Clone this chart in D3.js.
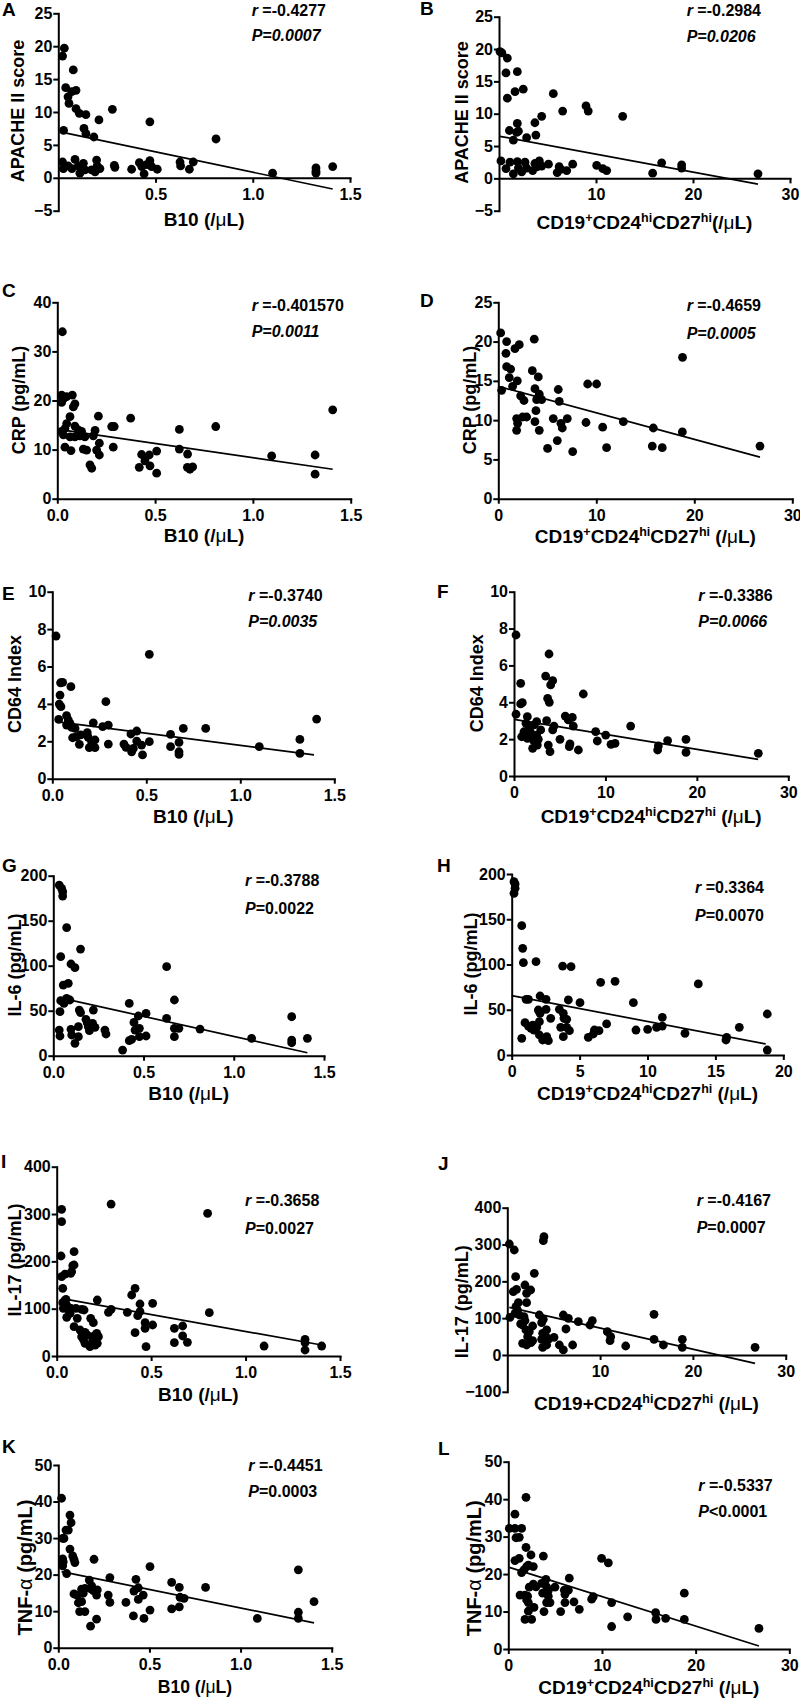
<!DOCTYPE html>
<html><head><meta charset="utf-8">
<script src="https://cdn.jsdelivr.net/npm/d3@7"></script>
<style>
body{margin:0;background:#fff;}
svg text{font-family:"Liberation Sans",Arial,sans-serif;font-weight:bold;fill:#000;white-space:pre;}
</style></head><body>
<svg id="c" width="800" height="1700" xmlns="http://www.w3.org/2000/svg"></svg>
<script>
// ---------- DATA ----------
const panelIds = ["A","B","C","D","E","F","G","H","I","J","K","L"];
const rValues = ["-0.4277","-0.2984","-0.401570","-0.4659","-0.3740","-0.3386","-0.3788","0.3364","-0.3658","-0.4167","-0.4451","-0.5337"];
const pValues = ["=0.0007","=0.0206","=0.0011","=0.0005","=0.0035","=0.0066","=0.0022","=0.0070","=0.0027","=0.0007","=0.0003","<0.0001"];
const yTitles = ["APACHE II score","APACHE II score","CRP (pg/mL)","CRP (pg/mL)","CD64 Index","CD64 Index","IL-6 (pg/mL)","IL-6 (pg/mL)","IL-17 (pg/mL)","IL-17 (pg/mL)","TNF-α (pg/mL)","TNF-α (pg/mL)"];
const b10Ticks = [0,0.5,1,1.5];
const cdTicks30 = [0,10,20,30];
const cdTicks20 = [0,5,10,15,20];
const yTicksAB = [-5,0,5,10,15,20,25];
const yTicksC = [0,10,20,30,40];
const yTicksD = [0,5,10,15,20,25];
const yTicksEF = [0,2,4,6,8,10];
const yTicksGH = [0,50,100,150,200];
const yTicksI = [0,100,200,300,400];
const yTicksJ = [-100,0,100,200,300,400];
const yTicksKL = [0,10,20,30,40,50];

const ptsA = [[0.022,18.5],[0.031,19.7],[0.038,13.7],[0.05,12.3],[0.055,11.3],[0.077,16.4],[0.069,13.1],[0.091,13.3],[0.091,10.5],[0.108,9.8],[0.142,9.6],[0.209,8.8],[0.278,10.4],[0.471,8.5],[0.027,7.2],[0.132,7.5],[0.142,6.7],[0.183,6.2],[0.811,5.9],[0.022,2.4],[0.026,1.4],[0.05,1.8],[0.07,1.4],[0.086,2.8],[0.103,1.8],[0.111,0.7],[0.129,2.2],[0.137,1.2],[0.171,1.2],[0.189,0.9],[0.197,2.7],[0.2,1.8],[0.214,1.4],[0.288,1.9],[0.291,1.6],[0.377,1.3],[0.417,2.3],[0.429,1.7],[0.441,0.6],[0.454,2.0],[0.471,2.6],[0.48,1.7],[0.509,1.3],[0.626,2.4],[0.629,1.8],[0.674,1.3],[0.694,2.4],[1.102,0.7],[1.325,1.5],[1.325,1.0],[1.325,0.7],[1.411,1.7]];
const fitA = [[0.022,6.9],[1.411,-1.7]];

const ptsB = [[0.1,19.6],[0.3,19.4],[0.86,18.6],[0.72,16.3],[1.89,16.5],[0.86,12.4],[1.65,13.4],[2.5,13.8],[5.6,13.1],[8.97,11.2],[9.2,10.4],[6.56,10.4],[12.75,9.6],[4.4,9.6],[3.7,8.6],[1.89,8.5],[1.07,7.4],[1.82,7.1],[2.0,7.3],[3.8,6.7],[2.85,6.3],[1.48,5.9],[0.2,2.7],[0.72,1.5],[1.13,2.5],[1.48,0.7],[1.89,2.6],[2.0,1.6],[2.34,1.0],[2.68,2.5],[2.85,1.6],[3.47,1.2],[3.7,2.3],[3.95,1.8],[4.16,2.7],[4.4,1.9],[5.1,2.2],[6.0,0.9],[6.2,1.8],[6.36,1.4],[6.98,1.2],[7.6,2.2],[10.07,2.0],[10.7,1.5],[11.1,1.2],[15.84,0.8],[16.77,2.4],[18.83,2.1],[18.83,1.6],[26.7,0.7]];
const fitB = [[0.1,6.5],[26.7,-0.9]];

const ptsC = [[0.026,34.0],[0.022,21.1],[0.022,19.6],[0.034,20.5],[0.048,20.8],[0.077,21.1],[0.082,18.7],[0.09,19.3],[0.065,16.7],[0.048,15.3],[0.039,14.3],[0.022,13.7],[0.031,13.0],[0.09,14.8],[0.107,14.0],[0.124,13.7],[0.065,12.6],[0.09,12.6],[0.116,12.8],[0.141,12.6],[0.039,10.5],[0.07,9.8],[0.133,10.1],[0.15,9.9],[0.21,16.8],[0.193,13.9],[0.184,12.8],[0.215,11.3],[0.201,9.9],[0.215,8.9],[0.167,6.9],[0.176,6.2],[0.278,14.7],[0.291,14.7],[0.286,10.5],[0.375,16.4],[0.419,6.4],[0.431,9.0],[0.448,7.7],[0.47,8.9],[0.474,6.7],[0.508,9.7],[0.508,5.2],[0.624,14.1],[0.624,10.1],[0.666,9.1],[0.665,6.4],[0.678,6.0],[0.692,6.5],[0.81,14.7],[1.096,8.7],[1.318,8.9],[1.318,5.0],[1.408,18.1]];
const fitC = [[0.022,14.0],[1.408,6.0]];

const ptsD = [[0.24,21.1],[0.85,20.0],[0.78,18.5],[0.85,16.8],[1.26,16.5],[1.12,15.4],[1.46,14.3],[1.94,15.0],[0.34,13.8],[1.7,19.1],[2.14,19.6],[3.67,20.3],[3.47,16.3],[4.08,15.5],[3.74,14.0],[3.91,12.6],[4.18,13.3],[4.42,12.6],[2.28,13.1],[2.62,12.5],[1.87,10.2],[1.97,9.6],[1.87,8.7],[2.48,10.4],[2.89,10.4],[3.84,11.2],[3.74,9.8],[4.18,8.7],[5.03,6.4],[5.61,10.2],[6.12,13.9],[6.22,12.4],[6.02,7.4],[6.39,9.6],[6.53,9.0],[7.04,10.2],[7.59,6.0],[9.12,14.6],[10.03,14.6],[8.95,9.7],[10.65,9.1],[11.05,6.5],[12.76,9.8],[15.82,9.0],[15.71,6.7],[16.73,6.5],[18.8,18.0],[18.78,8.5],[26.7,6.7]];
const fitD = [[0,14.3],[26.7,5.3]];

const ptsE = [[0.02,7.63],[0.034,3.17],[0.041,4.47],[0.037,3.99],[0.046,3.85],[0.044,5.13],[0.055,5.15],[0.099,4.92],[0.076,3.37],[0.085,3.14],[0.094,2.96],[0.076,2.87],[0.103,2.74],[0.121,2.69],[0.108,2.19],[0.129,2.25],[0.144,1.84],[0.151,2.34],[0.186,2.46],[0.191,2.21],[0.197,1.66],[0.218,2.99],[0.209,1.98],[0.227,1.66],[0.227,2.07],[0.268,2.78],[0.285,4.12],[0.298,2.87],[0.298,1.85],[0.381,1.85],[0.392,1.68],[0.418,2.39],[0.422,1.44],[0.431,1.62],[0.449,2.55],[0.449,2.01],[0.475,1.8],[0.48,1.27],[0.516,6.65],[0.516,1.98],[0.629,2.37],[0.629,1.71],[0.674,1.94],[0.674,1.44],[0.674,1.30],[0.697,2.69],[0.816,2.69],[1.101,1.71],[1.317,2.1],[1.317,1.35],[1.406,3.19]];
const fitE = [[0.02,3.05],[1.392,1.27]];

const ptsF = [[0.22,7.65],[0.22,3.35],[0.73,5.03],[0.73,3.91],[0.91,3.98],[0.84,2.13],[1.09,2.4],[1.31,2.86],[1.46,3.22],[1.46,2.04],[1.68,2.59],[1.82,2.35],[2.04,1.5],[2.11,1.95],[2.19,2.77],[2.48,2.95],[2.48,2.22],[2.55,1.68],[2.66,1.99],[2.92,2.5],[3.57,3.0],[3.46,5.42],[3.83,6.62],[3.68,4.21],[3.86,4.0],[3.75,1.68],[3.94,1.32],[4.01,4.94],[4.23,5.17],[4.23,2.5],[4.37,2.71],[5.03,1.99],[5.61,3.25],[5.94,3.04],[6.12,1.74],[6.05,1.59],[6.38,3.18],[6.49,2.71],[7.04,1.41],[7.58,4.45],[8.93,2.41],[9.11,1.9],[10.03,2.22],[10.61,1.72],[11.05,1.77],[12.76,2.71],[15.79,1.63],[15.71,1.41],[16.8,1.92],[18.81,1.99],[18.81,1.28],[26.72,1.23]];
const fitF = [[0,3.07],[26.7,0.9]];

const ptsG = [[0.033,189.6],[0.046,185.9],[0.052,182.2],[0.052,177.4],[0.074,142.2],[0.041,110.0],[0.151,118.5],[0.098,101.9],[0.12,97.8],[0.055,78.5],[0.083,80.4],[0.074,63.7],[0.092,61.9],[0.041,61.1],[0.059,58.1],[0.037,48.9],[0.033,28.5],[0.037,21.9],[0.098,29.3],[0.102,23.0],[0.12,13.7],[0.139,32.2],[0.139,21.1],[0.144,50.7],[0.151,47.8],[0.181,40.4],[0.188,36.7],[0.194,32.2],[0.2,27.8],[0.222,50.7],[0.218,35.9],[0.231,31.5],[0.286,28.5],[0.292,24.1],[0.384,6.3],[0.421,58.1],[0.421,16.7],[0.434,18.1],[0.447,37.0],[0.453,28.5],[0.471,44.1],[0.477,30.4],[0.477,21.1],[0.514,47.0],[0.514,21.9],[0.628,98.9],[0.628,41.5],[0.671,61.9],[0.671,30.4],[0.671,21.1],[0.696,30.4],[0.813,29.6],[1.099,19.3],[1.321,43.3],[1.321,17.4],[1.321,14.4],[1.408,19.3]];
const fitG = [[0.033,64.5],[1.408,3.3]];

const ptsH = [[0.17,191.5],[0.25,189.0],[0.25,184.2],[0.17,178.6],[0.74,142.9],[0.81,117.9],[0.86,102.0],[1.79,103.1],[3.75,98.3],[4.37,97.6],[6.55,80.3],[7.61,81.4],[13.74,78.5],[1.06,61.5],[1.23,61.5],[2.09,65.2],[2.53,61.5],[4.17,60.8],[5.03,57.8],[8.96,57.8],[0.98,35.7],[1.23,32.0],[1.42,29.5],[1.55,33.1],[1.64,27.6],[1.84,30.6],[0.74,18.4],[1.96,49.7],[2.09,46.0],[2.04,36.8],[2.04,22.1],[2.28,16.6],[2.53,50.5],[2.58,20.3],[2.7,15.8],[2.87,40.5],[3.51,50.5],[3.8,46.0],[3.85,40.5],[3.61,30.6],[3.8,20.3],[4.05,39.4],[4.05,30.6],[4.25,26.9],[5.64,19.5],[6.01,23.2],[6.09,27.6],[6.43,26.9],[6.99,34.3],[9.15,27.6],[10.01,28.4],[10.67,30.6],[11.09,41.6],[11.09,32.0],[12.76,23.9],[15.78,16.6],[15.83,19.5],[16.76,30.6],[18.82,45.3],[18.82,5.5]];
const fitH = [[0,65.6],[18.7,12.2]];

const ptsI = [[0.026,309.9],[0.026,283.8],[0.023,211.3],[0.026,167.6],[0.044,173.2],[0.032,143.0],[0.049,119.7],[0.032,112.7],[0.053,107.7],[0.035,100.7],[0.062,97.2],[0.076,100.7],[0.053,81.7],[0.071,90.1],[0.074,174.6],[0.085,190.8],[0.092,192.3],[0.092,220.4],[0.079,178.2],[0.102,100.7],[0.092,62.0],[0.109,79.6],[0.132,98.6],[0.145,97.2],[0.124,54.9],[0.15,50.0],[0.132,40.8],[0.141,35.2],[0.162,44.4],[0.18,79.6],[0.194,70.4],[0.198,42.3],[0.191,33.8],[0.176,19.7],[0.15,26.8],[0.203,23.2],[0.212,47.9],[0.215,26.8],[0.221,40.8],[0.215,118.3],[0.274,92.3],[0.288,98.6],[0.288,321.1],[0.374,92.3],[0.397,128.9],[0.415,143.0],[0.415,49.3],[0.429,85.2],[0.441,109.9],[0.441,93.7],[0.468,70.4],[0.468,58.5],[0.473,19.7],[0.508,111.3],[0.508,65.5],[0.623,58.5],[0.623,28.2],[0.667,63.4],[0.667,42.3],[0.692,28.9],[0.799,301.4],[0.808,91.5],[1.098,21.1],[1.315,35.2],[1.315,28.2],[1.315,12.7],[1.403,21.1]];
const fitI = [[0.023,121.8],[1.403,23.2]];

const ptsJ = [[0.22,301.4],[0.75,285.1],[0.9,212.7],[0.29,102.3],[0.65,171.9],[1.0,178.3],[0.93,131.2],[1.19,142.1],[0.83,113.1],[1.08,122.2],[1.29,108.6],[1.44,84.2],[1.9,190.0],[2.08,167.4],[2.52,176.5],[2.08,142.1],[1.8,104.1],[1.9,93.2],[1.65,81.4],[2.01,67.9],[2.37,63.3],[2.73,78.7],[2.19,49.8],[1.65,31.7],[2.08,27.1],[2.55,33.5],[2.73,38.9],[2.91,221.7],[3.45,108.6],[3.7,87.8],[3.88,96.8],[3.81,58.8],[3.7,42.5],[3.81,20.8],[3.95,321.3],[3.88,310.4],[4.24,67.9],[4.17,49.8],[4.42,42.5],[4.24,27.1],[5.03,48.0],[5.61,27.1],[6.04,108.6],[6.04,13.6],[6.32,70.6],[6.58,99.5],[7.04,27.1],[7.65,90.5],[8.91,81.4],[9.16,93.2],[10.78,63.3],[11.07,38.9],[11.14,49.8],[12.76,24.4],[15.81,110.4],[15.81,42.5],[16.82,27.1],[18.86,42.5],[18.86,20.8],[26.7,20.8]];
const fitJ = [[0.22,129.4],[26.7,-22.6]];

const ptsK = [[0.018,40.9],[0.024,29.9],[0.031,29.9],[0.024,24.3],[0.027,23.5],[0.024,22.4],[0.046,20.3],[0.042,32.2],[0.055,32.2],[0.064,36.3],[0.07,34.2],[0.064,27.0],[0.079,25.1],[0.086,24.2],[0.091,23.3],[0.086,14.7],[0.104,14.4],[0.11,12.3],[0.117,9.9],[0.128,12.6],[0.128,16.0],[0.137,14.9],[0.146,16.2],[0.146,9.9],[0.17,18.5],[0.174,16.2],[0.177,5.9],[0.183,16.9],[0.192,15.6],[0.196,24.2],[0.21,14.4],[0.21,7.8],[0.214,15.8],[0.274,14.4],[0.283,19.2],[0.283,12.4],[0.371,12.4],[0.412,8.7],[0.415,15.5],[0.426,18.7],[0.439,16.4],[0.439,13.2],[0.466,14.4],[0.47,8.0],[0.503,22.2],[0.503,10.3],[0.622,17.9],[0.622,10.6],[0.664,16.5],[0.664,11.2],[0.668,13.8],[0.69,13.5],[0.808,16.5],[1.092,8.0],[1.317,21.3],[1.317,9.7],[1.317,8.0],[1.403,12.6]];
const fitK = [[0.018,20.8],[1.403,6.8]];

const ptsL = [[0.11,32.2],[0.71,36.0],[0.71,32.2],[1.42,32.2],[0.82,29.7],[1.17,29.8],[0.71,23.6],[1.17,24.2],[1.89,40.5],[1.89,27.1],[2.42,25.1],[2.67,22.0],[1.96,22.0],[2.14,22.4],[1.67,21.1],[1.42,20.4],[1.25,14.4],[1.78,14.4],[2.06,14.1],[1.96,13.1],[2.14,12.4],[2.14,10.1],[1.78,7.9],[2.49,7.9],[2.24,16.5],[2.67,17.3],[2.95,16.6],[2.74,11.1],[3.74,24.8],[3.56,17.5],[3.67,14.9],[3.81,10.0],[4.02,18.6],[4.09,16.6],[4.27,15.6],[4.27,14.1],[4.09,12.4],[4.45,12.4],[4.98,16.5],[5.59,10.0],[5.98,15.7],[6.05,14.6],[6.05,12.4],[6.41,15.7],[6.51,18.9],[7.01,12.6],[7.58,10.6],[8.9,13.3],[9.07,14.0],[9.96,24.2],[10.68,23.0],[11.03,12.4],[11.03,6.0],[12.74,8.6],[15.73,9.7],[15.77,7.9],[16.8,8.2],[18.79,14.9],[18.79,7.9],[26.76,5.5]];
const fitL = [[0.11,21.8],[26.76,0.8]];

// ---------- LAYOUT ----------
const layout = [
 {pts:ptsA,fit:fitA,xk:"b10",xDom:[0,1.5],xT:[0.5,1,1.5],x0:58.3,x1:350,yDom:[-5,25],yT:yTicksAB,yTop:13.3,yBot:210.7,lab:[2,16],yt:[17.5,111],xtY:226,an:[251.7,15.7,41.2],pAll:true,noSpace:false},
 {pts:ptsB,fit:fitB,xk:"cd",xDom:[0,30],xT:[10,20,30],x0:499,x1:790,yDom:[-5,25],yT:yTicksAB,yTop:16.7,yBot:210.7,lab:[420,15],yt:[461.7,112.5],xtY:229,an:[686.7,15.7,42.4],pAll:true,noSpace:true},
 {pts:ptsC,fit:fitC,xk:"b10",xDom:[0,1.5],xT:b10Ticks,x0:57.3,x1:350.7,yDom:[0,40],yT:yTicksC,yTop:302.3,yBot:498.7,lab:[2,296.5],yt:[19,400],xtY:542,an:[251.7,310.7,337.4],pAll:true},
 {pts:ptsD,fit:fitD,xk:"cd",xDom:[0,30],xT:cdTicks30,x0:498.3,x1:792.3,yDom:[0,25],yT:yTicksD,yTop:302.3,yBot:498.7,lab:[420,306.5],yt:[470,400],xtY:543,an:[686.7,310.7,339],pAll:true},
 {pts:ptsE,fit:fitE,xk:"b10",xDom:[0,1.5],xT:b10Ticks,x0:52.3,x1:334.3,yDom:[0,10],yT:yTicksEF,yTop:591.7,yBot:778.7,lab:[2,600],yt:[15,684],xtY:823,an:[248.3,600.7,627.4],pAll:true},
 {pts:ptsF,fit:fitF,xk:"cd",xDom:[0,30],xT:cdTicks30,x0:514,x1:788.3,yDom:[0,10],yT:yTicksEF,yTop:591.7,yBot:776,lab:[437,598],yt:[476.7,683.3],xtY:823,an:[698.3,600.7,627.4],pAll:true},
 {pts:ptsG,fit:fitG,xk:"b10",xDom:[0,1.5],xT:b10Ticks,x0:53.3,x1:324,yDom:[0,200],yT:yTicksGH,yTop:875.7,yBot:1055.7,lab:[2,871.5],yt:[15,965],xtY:1100,an:[245,885.7,914],pAll:false},
 {pts:ptsH,fit:fitH,xk:"cd",xDom:[0,20],xT:cdTicks20,x0:511.7,x1:783.3,yDom:[0,200],yT:yTicksGH,yTop:874,yBot:1055,lab:[437,871.5],yt:[471,964],xtY:1100,an:[695,893.4,920.7],pAll:false},
 {pts:ptsI,fit:fitI,xk:"b10",xDom:[0,1.5],xT:b10Ticks,x0:56.7,x1:340,yDom:[0,400],yT:yTicksI,yTop:1166.7,yBot:1356,lab:[1,1168],yt:[15,1260],xtY:1401,an:[245,1205.7,1234],pAll:false},
 {pts:ptsJ,fit:fitJ,xk:"cdplain",xDom:[0,30],xT:[10,20,30],x0:507.3,x1:785.7,yDom:[-100,400],yT:yTicksJ,yTop:1207.7,yBot:1391.8,lab:[438,1170],yt:[461.7,1301.7],xtY:1410,an:[696.7,1205.7,1233.4],pAll:false},
 {pts:ptsK,fit:fitK,xk:"b10",xDom:[0,1.5],xT:b10Ticks,x0:58.3,x1:331.7,yDom:[0,50],yT:yTicksKL,yTop:1465,yBot:1647.7,lab:[2,1453],yt:[25,1567.5],xtY:1693,an:[248.3,1470.7,1497.4],pAll:false},
 {pts:ptsL,fit:fitL,xk:"cd",xDom:[0,30],xT:cdTicks30,x0:508.3,x1:789.3,yDom:[0,50],yT:yTicksKL,yTop:1461.7,yBot:1649,lab:[438,1455],yt:[473.3,1568.3],xtY:1694,an:[698.3,1490.7,1517.4],pAll:false}
];

const svg = d3.select("#c");
const FONT = '"Liberation Sans", Arial, sans-serif';
const SUP = 7;

function xTitle(t, kind, noSpace) {
  let segs;
  if (kind === "b10") segs = [{s:"B10 (/"}];
  else {
    segs = [{s:"CD19"}];
    if (kind === "cdplain") segs.push({s:"+"}); else segs.push({s:"+", sup:true});
    segs.push({s:"CD24"}, {s:"hi", sup:true}, {s:"CD27"}, {s:"hi", sup:true}, {s: noSpace ? "(/" : " (/"});
  }
  segs.push({s:"μ", light:true}, {s:"L)"});
  let raised = false;
  segs.forEach(sg => {
    const ts = t.append("tspan").text(sg.s);
    if (sg.sup) {
      ts.attr("font-size", 12.5);
      if (!raised) { ts.attr("dy", -SUP); raised = true; }
    } else if (raised) { ts.attr("dy", SUP); raised = false; }
    if (sg.light) ts.attr("font-weight", "normal");
  });
}

layout.forEach((p, i) => {
  const x = d3.scaleLinear().domain(p.xDom).range([p.x0, p.x1]);
  const y = d3.scaleLinear().domain(p.yDom).range([p.yBot, p.yTop]);
  const g = svg.append("g");
  const fmtX = p.xk === "b10" ? d3.format(".1f") : d3.format("d");

  const xa = g.append("g").attr("transform", `translate(0,${y(0)})`)
    .call(d3.axisBottom(x).tickValues(p.xT).tickFormat(fmtX).tickSize(5).tickSizeOuter(0).tickPadding(5.5));
  const ya = g.append("g").attr("transform", `translate(${p.x0},0)`)
    .call(d3.axisLeft(y).tickValues(p.yT).tickFormat(d3.format("d")).tickSize(5).tickSizeOuter(0).tickPadding(1));
  [xa, ya].forEach(a => {
    a.attr("font-size", 16).attr("font-family", FONT).attr("font-weight", "bold");
    a.selectAll(".domain").attr("stroke", "#000").attr("stroke-width", 2).attr("stroke-linecap", "square");
    a.selectAll(".tick line").attr("stroke", "#000").attr("stroke-width", 2);
    a.selectAll(".tick text").attr("fill", "#000");
  });

  // regression line
  g.append("line")
    .attr("x1", x(p.fit[0][0])).attr("y1", y(p.fit[0][1]))
    .attr("x2", x(p.fit[1][0])).attr("y2", y(p.fit[1][1]))
    .attr("stroke", "#000").attr("stroke-width", 1.7);

  // points
  g.selectAll("circle.pt").data(p.pts).join("circle").attr("class", "pt")
    .attr("cx", d => x(d[0])).attr("cy", d => y(d[1])).attr("r", 4.4).attr("fill", "#000");

  // panel letter
  g.append("text").attr("x", p.lab[0]).attr("y", p.lab[1]).attr("font-size", 19).text(panelIds[i]);

  // y title
  const yt = g.append("text").attr("transform", `translate(${p.yt[0]},${p.yt[1]}) rotate(-90)`)
    .attr("text-anchor", "middle").attr("dy", "0.36em")
    .attr("font-size", (i >= 10) ? 20 : 18);
  const ytxt = yTitles[i];
  if (ytxt.includes("α")) {
    yt.append("tspan").text("TNF-");
    yt.append("tspan").attr("font-weight", "normal").text("α");
    yt.append("tspan").text(" (pg/mL)");
  } else yt.text(ytxt);

  // x title
  const xt = g.append("text").attr("x", (p.x0 + p.x1) / 2).attr("y", p.xtY)
    .attr("text-anchor", "middle").attr("font-size", i === 10 ? 17.5 : 19);
  xTitle(xt, p.xk, p.noSpace);

  // annotation
  const rt = g.append("text").attr("x", p.an[0]).attr("y", p.an[1]).attr("font-size", 16);
  rt.append("tspan").attr("font-style", "italic").text("r");
  rt.append("tspan").text(" =" + rValues[i]);
  const pt = g.append("text").attr("x", p.an[0]).attr("y", p.an[2]).attr("font-size", 16);
  if (p.pAll) {
    pt.append("tspan").attr("font-style", "italic").text("P" + pValues[i]);
  } else {
    pt.append("tspan").attr("font-style", "italic").text("P");
    pt.append("tspan").text(pValues[i]);
  }
});
</script>
</body></html>
